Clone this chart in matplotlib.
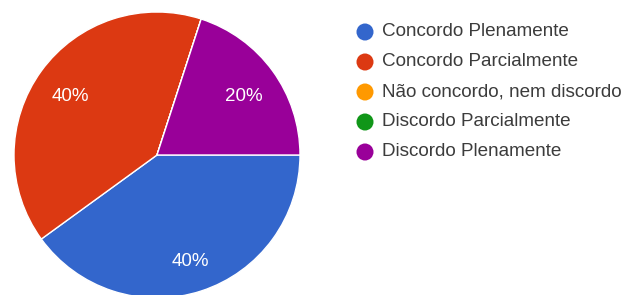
import matplotlib
matplotlib.use("Agg")
import matplotlib.pyplot as plt

plt.rcParams["font.family"] = ["Liberation Sans", "DejaVu Sans"]

categories = [
    "Concordo Plenamente",
    "Concordo Parcialmente",
    "Não concordo, nem discordo",
    "Discordo Parcialmente",
    "Discordo Plenamente",
]
shares = [40, 40, 0, 0, 20]
colors = ["#3366CC", "#DC3912", "#FF9900", "#109618", "#990099"]

W, H = 631, 295
fig = plt.figure(figsize=(W / 100, H / 100), dpi=100)

# pie placed in pixel terms: centre (157, 155), radius 143
cx, cy, r = 157, 155, 143
ax = fig.add_axes([(cx - r) / W, (H - cy - r) / H, 2 * r / W, 2 * r / H])
wedges, texts, autotexts = ax.pie(
    shares,
    colors=colors,
    startangle=0,
    counterclock=False,
    autopct=lambda p: f"{p:.0f}%" if p > 0 else "",
    pctdistance=0.75,
    wedgeprops=dict(edgecolor="white", linewidth=1),
    textprops=dict(color="white", fontsize=13.5),
)
# nudge labels a touch lower, as in the original
for t in autotexts:
    x, y = t.get_position()
    t.set_position((x, y - 0.03))
ax.set_xlim(-1, 1)
ax.set_ylim(-1, 1)
ax.set_aspect("equal")
ax.axis("off")

# legend drawn on an overlay axes in pixel coordinates
lg = fig.add_axes([0, 0, 1, 1])
lg.set_xlim(0, W)
lg.set_ylim(H, 0)
lg.axis("off")
for i, (name, col) in enumerate(zip(categories, colors)):
    y = 32 + 30 * i
    lg.scatter([365], [y], s=150, color=col, edgecolor="none")
    lg.text(382, y, name, va="center", ha="left", fontsize=13.6, color="#3c3c3c")

fig.savefig("out.png", dpi=100)
